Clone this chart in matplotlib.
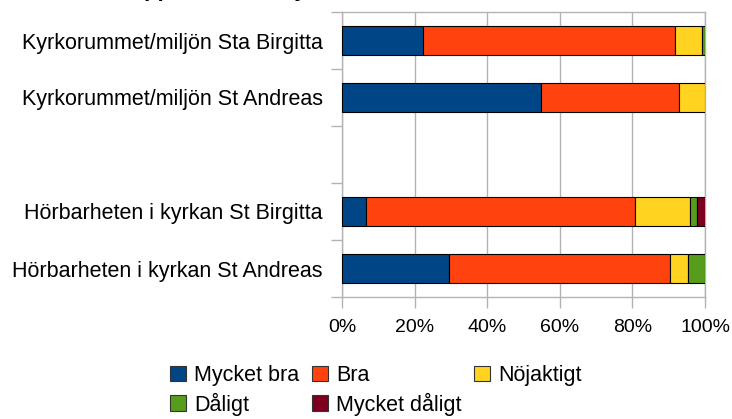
import numpy as np
import matplotlib
matplotlib.use("Agg")
import matplotlib.pyplot as plt
from matplotlib.patches import Patch

# --- data (percent per category) ---
categories = ["Hörbarheten i kyrkan St Andreas",
              "Hörbarheten i kyrkan St Birgitta",
              "",
              "Kyrkorummet/miljön St Andreas",
              "Kyrkorummet/miljön Sta Birgitta"]
series_names = ["Mycket bra", "Bra", "Nöjaktigt", "Dåligt", "Mycket dåligt"]
mycket_bra = [29.4, 6.5, 0, 54.8, 22.3]
bra = [61.0, 74.2, 0, 38.1, 69.4]
nojaktigt = [4.8, 15.1, 0, 7.1, 7.5]
daligt = [4.8, 2.1, 0, 0.0, 0.8]
mycket_daligt = [0.0, 2.1, 0, 0.0, 0.0]
xticklabels = ["0%", "20%", "40%", "60%", "80%", "100%"]

colors = ["#004586", "#ff420e", "#ffd320", "#579d1c", "#7e0021"]
grid_col = "#b3b3b3"

plt.rcParams['font.family'] = ['Liberation Sans', 'DejaVu Sans']

fig = plt.figure(figsize=(7.32, 4.19), dpi=100)
ax = fig.add_axes([342 / 732, 1 - 297 / 419, 363 / 732, 285 / 419])

values = [mycket_bra, bra, nojaktigt, daligt, mycket_daligt]
ypos = np.arange(len(categories))
left = np.zeros(len(categories))
for name, vals, col in zip(series_names, values, colors):
    vals = np.array(vals)
    mask = (vals > 0)
    ax.barh(ypos[mask], vals[mask], left=left[mask], height=0.5, color=col,
            edgecolor='black', linewidth=0.8, zorder=3)
    left = left + vals

ax.set_xlim(0, 100)
ax.set_ylim(-0.5, len(categories) - 0.5)
ax.set_xticks(np.arange(0, 101, 20))
ax.set_xticklabels(xticklabels, fontsize=14)
ax.set_yticks([i for i, c in enumerate(categories) if c])
ax.set_yticklabels([c for c in categories if c], fontsize=15.5)
ax.set_yticks(np.arange(-0.5, len(categories)), minor=True)
ax.tick_params(axis='y', which='major', length=0, pad=14)
ax.tick_params(axis='y', which='minor', length=8, color=grid_col, width=1)
ax.tick_params(axis='x', length=8, color=grid_col, width=1, pad=8)
ax.xaxis.grid(True, color=grid_col, linewidth=1, zorder=0)
for s in ax.spines.values():
    s.set_color(grid_col)
    s.set_linewidth(1)

# title, mostly cut off at the top edge
fig.text(0.5, 1 + 4 / 419, "Upplevelse av kyrkorummet och hörbarheten", ha='center',
         va='baseline', fontsize=16, fontweight='bold')

handles = [Patch(facecolor=c, edgecolor='#333333', linewidth=0.8) for c in colors]
order = [0, 3, 1, 4, 2]
fig.legend([handles[i] for i in order], [series_names[i] for i in order],
           ncol=3, loc='upper left', bbox_to_anchor=(170 / 732, 1 - 365 / 419),
           frameon=False, fontsize=15.5, handlelength=0.74, handleheight=0.74,
           handletextpad=0.37, columnspacing=0.6, labelspacing=0.3,
           borderaxespad=0, borderpad=0)

fig.savefig("out.png", dpi=100)
